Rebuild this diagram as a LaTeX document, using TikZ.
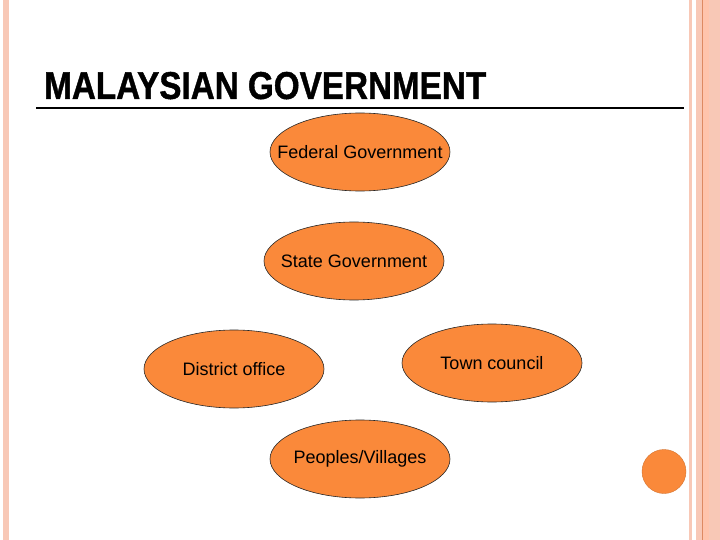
\documentclass[tikz,border=0pt]{standalone}
\usepackage{fontspec}
\setmainfont{Liberation Sans}
\newfontfamily\titlefont[BoldFeatures={FakeBold=1.2}]{Liberation Sans}
\usetikzlibrary{shapes.geometric}

\definecolor{govorange}{RGB}{250,137,58}
\definecolor{rimsalmon}{RGB}{248,200,182}
\definecolor{rimpeach}{RGB}{255,196,172}
\definecolor{rimdark}{RGB}{222,138,98}

\begin{document}
\begin{tikzpicture}[x=1pt, y=-1pt,
    govt/.style={ellipse, draw=black!85, line width=0.6pt, fill=govorange,
                 minimum width=180, minimum height=78,
                 inner xsep=-22pt, inner ysep=0pt,
                 font=\fontsize{18}{20}\selectfont}]

\useasboundingbox (0,0) rectangle (720,540);
\fill[white] (0,0) rectangle (720,540);

% ── Bordes de la diapositiva ─────────────────────────────────
\fill[rimsalmon] (3,0) rectangle (9,540);
\fill[rimsalmon] (689,0) rectangle (692,540);
\fill[rimsalmon] (696,0) rectangle (720,540);
\fill[rimpeach]  (703,0) rectangle (709,540);
\draw[rimdark, line width=1.2pt] (702.5,0) -- (702.5,540);

% ── Título ───────────────────────────────────────────────────
\node[anchor=south west, inner sep=0pt] (title) at (44,99.5)
    {\resizebox{442pt}{27pt}{\titlefont\bfseries MALAYSIAN GOVERNMENT}};
\draw[line width=2.5pt] (36,108) -- (684,108);

% ── Niveles de gobierno ──────────────────────────────────────
\node[govt] (federal)  at (360,152) {Federal Government};
\node[govt] (state)    at (354,261) {State Government};
\node[govt] (district) at (234,369) {District office};
\node[govt] (town)     at (492,363) {Town council};
\node[govt] (peoples)  at (360,459) {Peoples/Villages};

% ── Punto decorativo ─────────────────────────────────────────
\fill[govorange, draw=govorange!85!black, line width=0.4pt]
    (664,471.5) circle (22);

\end{tikzpicture}
\end{document}
